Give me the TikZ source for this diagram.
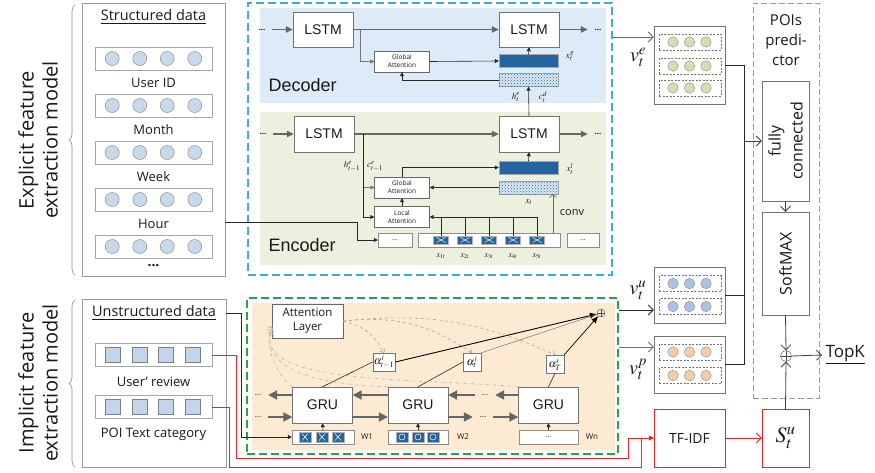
\documentclass[tikz,border=0pt]{standalone}
\usepackage{mathptmx}
\usepackage{fontspec}
\setmainfont{Open Sans}
\newfontfamily\arialf{Liberation Sans}
\usetikzlibrary{arrows.meta,decorations.pathreplacing,positioning,patterns,calc}
\newcommand\fsz[2]{\fontsize{#1}{#2}\selectfont}
\definecolor{bluedash}{HTML}{45A8DA}
\definecolor{greendash}{HTML}{2EA04A}
\definecolor{decbg}{HTML}{DDEAF7}
\definecolor{encbg}{HTML}{EBF1DE}
\definecolor{impbg}{HTML}{FCEBD2}
\definecolor{barblue}{HTML}{25649E}
\definecolor{dotbg}{HTML}{DCE9F6}
\definecolor{cblue}{HTML}{C8D9EC}
\definecolor{sqblue}{HTML}{C3D5EA}
\definecolor{colive}{HTML}{D7DCB2}
\definecolor{cvblue}{HTML}{A8C3E3}
\definecolor{corange}{HTML}{F5CCA8}
\definecolor{tfred}{HTML}{E5262B}
\tikzset{
  brace/.style={decorate, decoration={brace, amplitude=6pt}, draw=black!45, line width=.6pt},
  side/.style={rotate=90, align=center, font=\fsz{20}{24}},
  panel/.style={draw=black!40, line width=.6pt, inner sep=0pt},
  rowbox/.style={draw=black!35, fill=white, minimum width=117pt, minimum height=23pt, inner sep=0pt},
  cdot/.style={circle, draw=black!50, fill=cblue, minimum size=14pt, inner sep=0pt},
  sq/.style={draw=black!50, fill=sqblue, minimum size=15pt, inner sep=0pt},
  lstm/.style={draw=black!55, fill=white, minimum width=60pt, minimum height=35pt,
               inner sep=0pt, font=\arialf\fsz{14}{16}},
  att/.style={draw=black!60, fill=white, minimum width=55pt, minimum height=21pt,
              inner sep=0pt, align=center, font=\fsz{6.5}{8}},
  bar/.style={draw=black!35, fill=barblue, minimum width=59pt, minimum height=13pt, inner sep=0pt},
  dotbar/.style={bar, fill=dotbg, postaction={pattern=crosshatch dots, pattern color=barblue}},
  mlab/.style={inner sep=1pt, font=\fsz{9}{9}},
  seqbox/.style={draw=black!45, fill=white, minimum height=14pt, inner sep=0pt, font=\fsz{7}{7}},
  xtile/.style={draw=black!30, fill=barblue, minimum width=15pt, minimum height=8pt, inner sep=0pt,
    path picture={\draw[white, line width=.5pt]
      ([xshift=3pt,yshift=1.5pt]path picture bounding box.south west) --
      ([xshift=-3pt,yshift=-1.5pt]path picture bounding box.north east)
      ([xshift=3pt,yshift=-1.5pt]path picture bounding box.north west) --
      ([xshift=-3pt,yshift=1.5pt]path picture bounding box.south east);}},
  otile/.style={draw=black!30, fill=barblue, minimum width=12pt, minimum height=10pt, inner sep=0pt,
    path picture={\draw[white, line width=.5pt] (path picture bounding box.center) circle (3pt);}},
  cont/.style={minimum width=20pt, inner sep=0pt, font=\fsz{8}{8}},
  wlab/.style={font=\fsz{8}{8}},
  vbox/.style={draw=black!55, fill=white, minimum width=71pt, inner sep=0pt},
  vrow/.style={draw=black!55, dash pattern=on 2pt off 1.5pt, minimum width=62pt,
               minimum height=16pt, inner sep=0pt},
  vdot/.style={circle, draw=black!45, minimum size=10.5pt, inner sep=0pt},
  pbox/.style={draw=black!55, fill=white, minimum width=47pt, inner sep=0pt},
  redbox/.style={draw=tfred, fill=white, minimum height=58pt, inner sep=0pt},
  abox/.style={draw=black!55, fill=white, minimum size=18pt, inner sep=1pt, font=\fsz{11}{11}},
  sumn/.style={circle, draw=black!70, minimum size=10pt, inner sep=0pt,
    path picture={\draw[black!70] (path picture bounding box.north) -- (path picture bounding box.south)
      (path picture bounding box.west) -- (path picture bounding box.east);}},
  garrow/.style={draw=black!60, line width=1.1pt, -{Triangle[length=7pt,width=6.5pt]}},
  gruarrow/.style={draw=black!60, line width=2pt, -{Triangle[length=9pt,width=9pt]}},
  sarrow/.style={draw=black!85, line width=.6pt, -{Triangle[length=4pt,width=4pt]}},
  thin/.style={draw=black!85, line width=.6pt},
  oarrow/.style={draw=black!75, line width=.8pt, -{Straight Barb[length=5pt,width=10pt]}},
  attcurve/.style={draw=black!35, dashed, line width=.6pt, -{Straight Barb[length=3pt,width=6pt]}},
  fbcurve/.style={draw=black!30, dash dot, line width=.6pt, -{Straight Barb[length=3pt,width=6pt]}},
  redline/.style={draw=tfred, line width=.7pt},
}
\begin{document}
\begin{tikzpicture}[x=1pt, y=-1pt, font=\fsz{13}{15}, text=black!90]
\useasboundingbox (0,0) rectangle (875,472);

% explicit side
\draw[brace] (75,275) -- (75,5);
\node[side] at (38,140) {Explicit feature\\extraction model};
\node[panel, minimum width=143pt, minimum height=273pt] (sbox) at (153.5,139.5) {};
\node[font=\fsz{14.5}{16}] (stitle) at (153.5,17) {\underline{Structured data}};
\foreach \i in {0,...,4} {
  \node[rowbox] (sr\i) at (153.5,{58.5+47*\i}) {};
  \foreach \k in {0,...,3}
    \node[cdot] at ({112.25+27.5*\k},{58.5+47*\i}) {};
}
\foreach \i/\t in {0/User ID, 1/Month, 2/Week, 3/Hour}
  \node at (153.5,{82.5+47*\i}) {\t};
\node[font=\fsz{14}{14}\bfseries] (sdots) at (153.5,266) {...};

% encoder-decoder frame
\fill[decbg] (260,8) rectangle (606,103);
\fill[encbg] (260,112) rectangle (606,265);
\node[draw=bluedash, dash pattern=on 8pt off 4pt, line width=1.3pt, minimum width=364pt,
      minimum height=272pt, inner sep=0pt] (expl) at (430,139) {};

% decoder
\node[lstm] (dl1) at (323,29.5) {LSTM};
\node[lstm] (dl2) at (529,29.5) {LSTM};
\node[cont] (dd0) at (262,29.5) {\textbf{...}};
\node[cont] (dd1) at (598,29.5) {\textbf{...}};
\draw[garrow] (dd0) -- (dl1);
\draw[garrow] (dl2) -- (dd1);
\draw[garrow] (dl1) -- (dl2);
\node[att] (dga) at (402,61.5) {Global\\Attention};
\draw[sarrow, draw=black!55] (dl1.east) ++(7,0) |- (dga.west);
\node[bar] (dxg) at (528.5,61) {};
\node[dotbar] (dhc) at (528.5,80) {};
\draw[sarrow] (dga.east) -- (dxg.west);
\draw[sarrow] (dhc.west) -| (dga.south);
\draw[sarrow] (dxg.north) -- (dl2.south);
\node[mlab] (xg) at (570,56) {$x_t^g$};
\node[mlab] (hte) at (516,97) {$h_t^e$};
\node[mlab] (ctd) at (543,97) {$c_t^d$};
\node[font=\arialf\fsz{18}{18}, anchor=west] (declab) at (265,85) {Decoder};

% encoder
\node[lstm, minimum height=36pt] (el1) at (324,134) {LSTM};
\node[lstm, minimum height=36pt] (el2) at (529,134) {LSTM};
\node[cont] (ed0) at (263,134) {\textbf{...}};
\node[cont] (ed1) at (598,134) {\textbf{...}};
\draw[garrow] (ed0) -- (el1);
\draw[garrow] (el2) -- (ed1);
\draw[garrow] (el1) -- (el2);
\draw[sarrow] (el2.north) -- (dhc.south);
\node[att] (ega) at (402,187.5) {Global\\Attention};
\node[att] (ela) at (402,217) {Local\\Attention};
\node[bar] (exl) at (528.5,167.5) {};
\node[dotbar] (ext) at (528.5,187.5) {};
\draw[sarrow] (ega.north) |- (exl.west);
\draw[sarrow] (ext.west) -- (ega.east);
\draw[sarrow] (exl.north) -- (el2.south);
\draw[sarrow] (ela.north) -- (ega.south);
\draw[sarrow, draw=black!55] (el1.east) ++(9,0) |- (ega.west);
\draw[sarrow] (el1.east) ++(9,0) |- (ela.west);
\node[mlab] (hprev) at (352,166) {$h_{t-1}^e$};
\node[mlab] (cprev) at (375,166) {$c_{t-1}^e$};
\node[mlab] (xl) at (570,169) {$x_t^l$};
\node[mlab] (xt) at (529,202) {$x_t$};
\node[seqbox, minimum width=34pt] (edots) at (395,240) {...};
\node[seqbox, minimum width=142pt] (eseq) at (489,240) {};
\node[seqbox, minimum width=32pt] (edots2) at (583,240) {...};
\foreach \i in {1,...,5} {
  \node[xtile] (t\i) at ({417+24*\i},240) {};
  \node[inner sep=1pt, font=\fsz{8}{8}] at ({417+24*\i},256) {$x_{\i t}$};
  \draw[thin] (t\i.north) -- (t\i.north |- ela.east);
}
\draw[sarrow] (t5.north |- ela.east) -- (ela.east);
\coordinate (cv) at (553,233);
\draw[draw=black!60, line width=.6pt, -{Straight Barb[length=3pt,width=7pt]}] (cv) -- (cv |- ext.south);
\node[font=\fsz{11}{11}] (convlab) at (572,213) {conv};
\node[font=\arialf\fsz{18}{18}, anchor=west] (enclab) at (265,245) {Encoder};
\draw[sarrow] (sbox.east |- 0,222) -- (357,222) |- (edots.west);

% implicit side
\draw[brace] (75,467) -- (75,300);
\node[side] at (38,383) {Implicit feature\\extraction model};
\node[panel, minimum width=144pt, minimum height=168pt] (ubox) at (154,383) {};
\node[font=\fsz{14.5}{16}] (utitle) at (154,313) {\underline{Unstructured data}};
\node[rowbox] (ur1) at (153.5,355) {};
\node[rowbox] (ur2) at (153.5,407) {};
\foreach \k in {0,...,3} {
  \node[sq] at ({113+26.5*\k},355) {};
  \node[sq] at ({113+26.5*\k},407) {};
}
\node (urlab1) at (153.5,382) {User' review};
\node (urlab2) at (153.5,434) {POI Text category};

% GRU attention block
\fill[impbg] (252,303) rectangle (615,450);
\node[draw=greendash, dash pattern=on 8pt off 4pt, line width=1.3pt, minimum width=371pt,
      minimum height=156pt, inner sep=0pt] (impl) at (432.5,376) {};
\node[att, minimum width=71pt, minimum height=34pt, font=\fsz{11.5}{14}] (al) at (307.5,321) {Attention\\Layer};
\node[abox] (a1) at (384,362) {$\alpha_{t-1}^i$};
\node[abox] (a2) at (472,362) {$\alpha_t^i$};
\node[abox] (a3) at (555,364) {$\alpha_T^i$};
\node[sumn, minimum size=8pt] (asum) at (601,313) {};
\node[lstm, minimum height=36pt] (g1) at (322.5,405) {GRU};
\node[lstm, minimum height=36pt] (g2) at (418,405) {GRU};
\node[lstm, minimum height=36pt] (g3) at (548.5,405) {GRU};
\node[seqbox, minimum width=62pt] (w1) at (323,437) {};
\node[seqbox, minimum width=60pt] (w2) at (418,437) {};
\node[seqbox, minimum width=59pt] (w3) at (548.5,437) {...};
\foreach \x in {305,322,338} \node[xtile, minimum width=12pt, minimum height=10pt] at (\x,437) {};
\foreach \x in {402,418,433} \node[otile] at (\x,437) {};
\node[wlab] (wl1) at (367,437) {W1};
\node[wlab] (wl2) at (463,437) {W2};
\node[wlab] (wl3) at (592,437) {Wn};
\foreach \i in {1,2,3} \draw[sarrow] (w\i.north) -- (g\i.south);
\node[cont] (gb0) at (258,395) {...};
\node[cont] (gf0) at (258,417) {...};
\node[cont] (gb1) at (485,395) {...};
\node[cont] (gf1) at (483,417) {...};
\draw[gruarrow] (g1.west |- gb0) -- (gb0.east);
\draw[gruarrow] (g2.west |- gb0) -- (g1.east |- gb0);
\draw[gruarrow] (gb1.west) -- (g2.east |- gb1);
\draw[gruarrow] (g3.west |- gb1) -- (gb1.east);
\draw[gruarrow] (gf0.east) -- (g1.west |- gf0);
\draw[gruarrow] (g1.east |- gf0) -- (g2.west |- gf0);
\draw[gruarrow] (g2.east |- gf0) -- (gf1.west);
\draw[gruarrow] (gf1.east) -- (g3.west |- gf0);
\draw[thin] (g1.north) -- (a1.west);
\draw[thin] (g2.north) -- (a2.west);
\draw[thin] (g3.north) -- (a3.south);
\draw[line width=.9pt, -{Latex[length=7pt,width=6pt]}] (a1.east) -- (asum);
\draw[draw=black!55, line width=.5pt] (a2.north east) -- (asum);
\draw[line width=.7pt, -{Latex[length=7pt,width=6pt]}] (a3.north east) -- (asum);
\draw[attcurve] (al.east) to[bend left=25] (a1.north);
\draw[attcurve] (al.east) to[bend left=20] (a2.north);
\draw[attcurve] (al.east) to[bend left=15] (a3.north);
\draw[fbcurve] (g1.north west) .. controls (282,380) and (262,350) .. (al.188);
\draw[fbcurve] (g2.north west) .. controls (320,385) and (258,370) .. (al.192);
\draw[fbcurve] (g3.north west) .. controls (420,378) and (252,385) .. (al.196);
\draw[sarrow] (ubox.east |- utitle) -- (241,313) |- (w1.west);

% feature vectors
\node[vbox, minimum height=78pt] (ve) at (689.5,65) {};
\foreach \y in {42,66,88} {
  \node[vrow] at (690,\y) {};
  \foreach \x in {673,689.5,706} \node[vdot, fill=colive] at (\x,\y) {};
}
\node[vbox, minimum height=56pt] (vu) at (689.5,295) {};
\foreach \y in {283.5,306.5} {
  \node[vrow] at (690,\y) {};
  \foreach \x in {673,689.5,706} \node[vdot, fill=cvblue] at (\x,\y) {};
}
\node[vbox, minimum height=57pt] (vp) at (689.5,364.5) {};
\foreach \y in {352,375.5} {
  \node[vrow] at (690,\y) {};
  \foreach \x in {673,689.5,706} \node[vdot, fill=corange] at (\x,\y) {};
}
\node[font=\fsz{20}{20}] (vel) at (638,57) {$v_t^e$};
\node[font=\fsz{20}{20}] (vul) at (638,290) {$v_t^u$};
\node[font=\fsz{20}{20}] (vpl) at (638,369) {$v_t^p$};
\draw[oarrow, draw=black!60] (expl.east |- 0,37) -- (ve.west |- 0,37);
\draw[oarrow, draw=black!85] (impl.east |- 0,310) -- (vu.west |- 0,310);
\draw[oarrow, draw=black!55] (impl.east |- 0,347) -- (vp.west |- 0,347);

% predictor
\node[draw=black!40, dash pattern=on 6pt off 3pt, line width=.8pt, minimum width=66pt,
      minimum height=395pt, inner sep=0pt] (pred) at (786,200.5) {};
\node[align=center, font=\fsz{15}{20}] (predlab) at (786,40) {POIs\\predi-\\ctor};
\node[pbox, minimum height=120pt] (fc) at (785.5,141) {};
\node[rotate=90, align=center, font=\fsz{16}{22}] at (fc) {fully\\connected};
\node[pbox, minimum height=103pt] (sm) at (785.5,263.5) {};
\node[rotate=90, font=\fsz{16}{16}] at (sm) {SoftMAX};
\node[sumn, minimum size=11pt] (sum) at (786,356) {};
\node[font=\fsz{17}{17}, anchor=west] (topk) at (822,355) {\underline{TopK}};
\coordinate (jn) at (744,141);
\draw[thin] (ve.east) -| (jn |- vp.east) -- (vp.east);
\draw[thin] (vu.east) -- (jn |- vu.east);
\draw[oarrow] (jn) -- (fc.west);
\draw[oarrow] (fc.south) -- (sm.north);
\draw[oarrow] (sm.south) -- (sum.north);
\draw[oarrow] (sum.east) -- (topk.west);

% tf-idf
\node[redbox, minimum width=71pt, font=\fsz{14}{14}] (tfidf) at (689.5,438) {TF-IDF};
\node[redbox, minimum width=47pt, font=\fsz{22}{22}] (su) at (785.5,438) {$S_t^u$};
\draw[oarrow, draw=tfred] (tfidf) -- (su);
\draw[oarrow] (su.north) -- (sum.south);
\draw[redline, -{Triangle[length=5pt,width=5pt]}] (ur1.east) -| (236,458) -| (628,438) -- (tfidf.west);
\draw[redline] (ur2.east) -| (229,467) -| (641,438);
\end{tikzpicture}
\end{document}
